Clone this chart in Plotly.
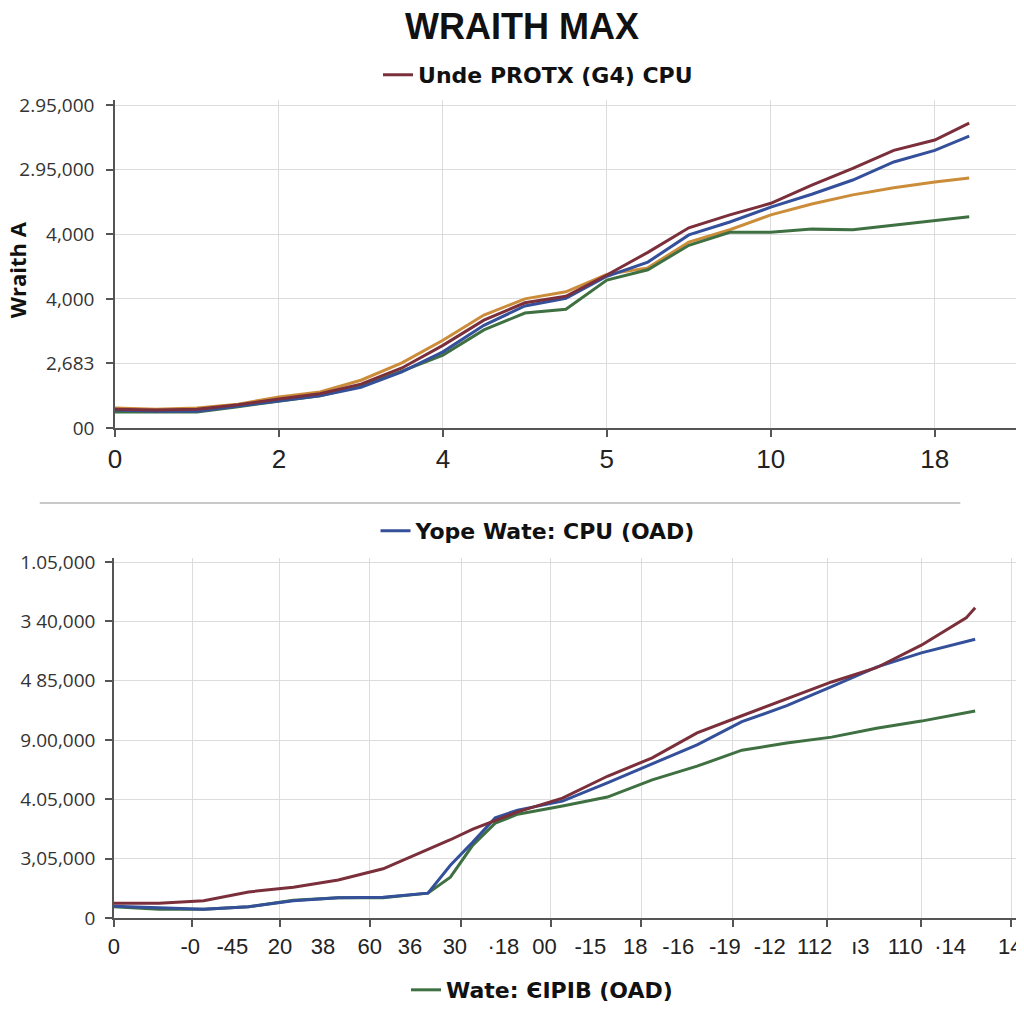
import plotly.graph_objects as go

# ---------------- data: top panel ----------------
top_x = [0, 0.25, 0.5, 0.75, 1, 1.25, 1.5, 1.75, 2, 2.25, 2.5, 2.75, 3, 3.25,
         3.5, 3.75, 4, 4.25, 4.5, 4.75, 5, 5.21]
top_red = [0.29, 0.28, 0.29, 0.36, 0.45, 0.53, 0.68, 0.93, 1.28, 1.67, 1.94, 2.04,
           2.37, 2.72, 3.10, 3.30, 3.48, 3.76, 4.02, 4.30, 4.46, 4.72]
top_blue = [0.28, 0.26, 0.26, 0.34, 0.43, 0.50, 0.63, 0.87, 1.18, 1.59, 1.89, 2.01,
            2.35, 2.57, 2.99, 3.19, 3.42, 3.62, 3.84, 4.12, 4.30, 4.52]
top_orange = [0.31, 0.29, 0.31, 0.37, 0.48, 0.56, 0.74, 1.01, 1.36, 1.75, 2.00, 2.11,
              2.38, 2.48, 2.88, 3.07, 3.30, 3.47, 3.61, 3.72, 3.81, 3.87]
top_green = [0.25, 0.25, 0.25, 0.33, 0.42, 0.50, 0.65, 0.88, 1.13, 1.52, 1.78, 1.84,
             2.29, 2.45, 2.83, 3.03, 3.03, 3.08, 3.07, 3.14, 3.20, 3.27]
top_xtick_vals = [0, 1, 2, 3, 4, 5]
top_xtick_text = ["0", "2", "4", "5", "10", "18"]
top_ytick_vals = [0, 1, 2, 3, 4, 5]
top_ytick_text = ["00", "2,683", "4,000", "4,000", "2.95,000", "2.95,000"]

# ---------------- data: bottom panel ----------------
bot_x = [0, 0.5, 1, 1.5, 2, 2.5, 3, 3.5, 3.75, 4, 4.25, 4.5, 5, 5.5, 6, 6.5,
         7, 7.5, 8, 8.5, 9, 9.5, 9.6]
bot_red = [0.25, 0.25, 0.29, 0.44, 0.52, 0.64, 0.83, 1.15, 1.32, 1.50, 1.65, 1.79,
           2.02, 2.39, 2.70, 3.12, 3.41, 3.69, 3.98, 4.22, 4.60, 5.06, 5.23]
bot_blue = [0.20, 0.17, 0.15, 0.19, 0.29, 0.34, 0.35, 0.42, 0.89, 1.28, 1.69, 1.82,
            1.97, 2.28, 2.60, 2.92, 3.31, 3.58, 3.90, 4.23, 4.47, 4.67, 4.70]
bot_green = [0.19, 0.15, 0.15, 0.19, 0.30, 0.34, 0.34, 0.42, 0.69, 1.23, 1.60, 1.75,
             1.89, 2.04, 2.33, 2.56, 2.83, 2.95, 3.05, 3.20, 3.32, 3.46, 3.49]
bot_xtick_vals = [0, 0.85, 1.32, 1.85, 2.33, 2.85, 3.30, 3.80, 4.34, 4.80, 5.31, 5.81,
                  6.29, 6.81, 7.31, 7.81, 8.32, 8.82, 9.32, 9.99]
bot_xtick_text = ["0", "-0", "-45", "20", "38", "60", "36", "30", "·18", "00", "-15",
                  "18", "-16", "-19", "-12", "112", "ı3", "110", "·14", "14"]
bot_xgrid_vals = [0, 0.87, 1.85, 2.85, 3.87, 4.87, 5.88, 6.90, 7.95, 9.0, 10.0]
bot_ytick_vals = [0, 1, 2, 3, 4, 5, 6]
bot_ytick_text = ["0", "3,05,000", "4.05,000", "9.00,000", "4 85,000", "3 40,000",
                  "1.05,000"]

RED = "#7b2f3b"
BLUE = "#34509a"
ORANGE = "#cc8d3a"
GREEN = "#3f7042"
LW = 3

fig = go.Figure()

fig.add_trace(go.Scatter(x=top_x, y=top_orange, mode="lines", line=dict(color=ORANGE, width=LW),
                         showlegend=False, xaxis="x", yaxis="y"))
fig.add_trace(go.Scatter(x=top_x, y=top_green, mode="lines", line=dict(color=GREEN, width=LW),
                         showlegend=False, xaxis="x", yaxis="y"))
fig.add_trace(go.Scatter(x=top_x, y=top_blue, mode="lines", line=dict(color=BLUE, width=LW),
                         showlegend=False, xaxis="x", yaxis="y"))
fig.add_trace(go.Scatter(x=top_x, y=top_red, mode="lines", line=dict(color=RED, width=LW),
                         name="Unde PROTX (G4) CPU", legend="legend", xaxis="x", yaxis="y"))

fig.add_trace(go.Scatter(x=bot_x, y=bot_green, mode="lines", line=dict(color=GREEN, width=LW),
                         name="Wate: ЄIPIB (OAD)", legend="legend3", xaxis="x2", yaxis="y2"))
fig.add_trace(go.Scatter(x=bot_x, y=bot_blue, mode="lines", line=dict(color=BLUE, width=LW),
                         name="Yope Wate: CPU (OAD)", legend="legend2", xaxis="x2", yaxis="y2"))
fig.add_trace(go.Scatter(x=bot_x, y=bot_red, mode="lines", line=dict(color=RED, width=LW),
                         showlegend=False, xaxis="x2", yaxis="y2"))

axis_common = dict(showline=True, linecolor="#555", linewidth=1.5, gridcolor="#dcdcdc",
                   gridwidth=1.2, zeroline=False, ticks="outside", tickcolor="#555",
                   ticklen=7, tickwidth=1.5, automargin=False)
tick_font_y = dict(family="Open Sans, DejaVu Sans, sans-serif", size=19, color="#333")
tick_font_x = dict(family="Liberation Sans Narrow, Arial Narrow, sans-serif", size=26, color="#222")
leg_font = dict(family="DejaVu Sans, Verdana, sans-serif", size=22, color="#111", weight="bold")

fig.update_layout(
    width=1024, height=1024,
    margin=dict(l=0, r=0, t=0, b=0, autoexpand=False),
    paper_bgcolor="white", plot_bgcolor="white",
    title=dict(text="<b>WRAITH MAX</b>", x=0.502, xanchor="center", y=0.982, yanchor="middle",
               automargin=False,
               font=dict(family="Liberation Sans Narrow, Arial Narrow, sans-serif", size=36, color="#111")),
    xaxis=dict(domain=[0.1045, 0.9883], anchor="y", range=[0, 5.52],
               tickvals=top_xtick_vals, ticktext=top_xtick_text, tickfont=tick_font_x,
               **axis_common),
    yaxis=dict(domain=[0.5898, 0.9102], anchor="x", range=[0, 5.08],
               tickvals=top_ytick_vals, ticktext=top_ytick_text, tickfont=tick_font_y,
               ticklabelstandoff=8, **axis_common),
    xaxis2=dict(domain=[0.1035, 0.9883], anchor="y2", range=[0, 10.1],
                tickvals=bot_xtick_vals, ticktext=bot_xtick_text,
                tickfont=dict(family="Liberation Sans Narrow, Arial Narrow, sans-serif", size=22, color="#222"),
                showline=True, linecolor="#555", linewidth=1.5, zeroline=False,
                showgrid=False, ticks="", automargin=False, ticklabeloverflow="allow",
                ticklabelstandoff=8,
                minor=dict(tickvals=bot_xgrid_vals, showgrid=True, gridcolor="#dcdcdc",
                           gridwidth=1.2, ticks="outside", ticklen=7, tickcolor="#555", tickwidth=1.5)),
    yaxis2=dict(domain=[0.1113, 0.4629], anchor="x2", range=[0, 6.07],
                tickvals=bot_ytick_vals, ticktext=bot_ytick_text, tickfont=tick_font_y,
                ticklabelstandoff=6, **axis_common),
    legend=dict(x=0.5176, y=0.9346, xanchor="center", yanchor="middle", orientation="h",
                font=leg_font, bgcolor="rgba(0,0,0,0)"),
    legend2=dict(x=0.5176, y=0.4893, xanchor="center", yanchor="middle", orientation="h",
                 font=leg_font, bgcolor="rgba(0,0,0,0)"),
    legend3=dict(x=0.5215, y=0.041, xanchor="center", yanchor="middle", orientation="h",
                 font=leg_font, bgcolor="rgba(0,0,0,0)"),
    shapes=[dict(type="line", xref="paper", yref="paper", x0=0.031, x1=0.93,
                 y0=0.5166, y1=0.5166, line=dict(color="#c8c8c8", width=2))],
    annotations=[dict(text="<b>Wraith A</b>", xref="paper", yref="paper", x=0.009, y=0.744,
                      xanchor="center", yanchor="middle", textangle=-90, showarrow=False,
                      font=dict(family="Open Sans, sans-serif", size=22, color="#111"))],
)

fig.write_html("out.html")
